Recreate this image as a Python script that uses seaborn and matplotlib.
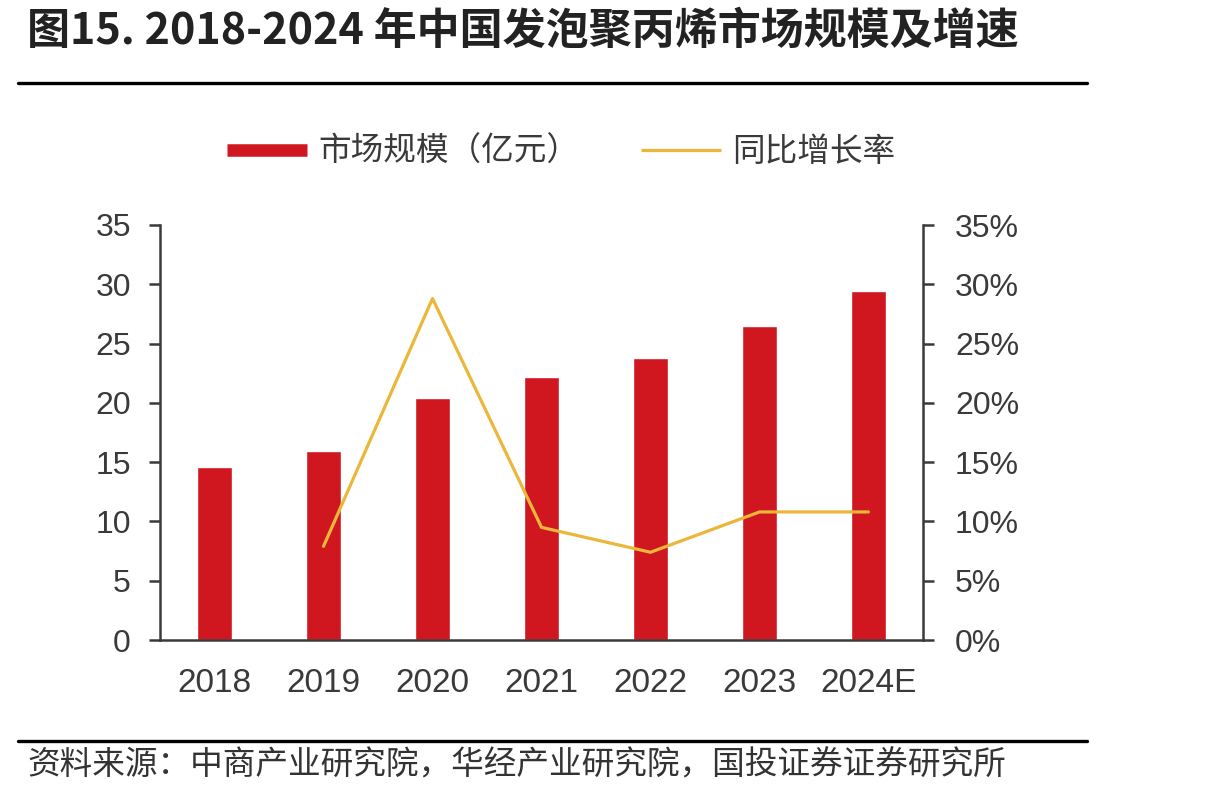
import numpy as np
import matplotlib
matplotlib.use("Agg")
import matplotlib.pyplot as plt
from matplotlib.lines import Line2D
import seaborn as sns
import pandas as pd

years = ["2018", "2019", "2020", "2021", "2022", "2023", "2024E"]
market_size = [14.6, 15.9, 20.4, 22.2, 23.8, 26.5, 29.4]
growth_years = ["2019", "2020", "2021", "2022", "2023", "2024E"]
growth_pct = [7.9, 28.8, 9.5, 7.4, 10.8, 10.8]
left_ticks = [0, 5, 10, 15, 20, 25, 30, 35]
right_ticks = [0, 5, 10, 15, 20, 25, 30, 35]

title = "图15. 2018-2024 年中国发泡聚丙烯市场规模及增速"
source = "资料来源：中商产业研究院，华经产业研究院，国投证券证券研究所"
bar_label = "市场规模（亿元）"
line_label = "同比增长率"

RED = "#D0161F"
YELLOW = "#EBB73A"
DARK = "#3A3A3A"

sns.set_theme(style="white")
plt.rcParams["font.family"] = ["Liberation Sans", "Noto Sans CJK SC", "DejaVu Sans"]
CJK = ["Noto Sans CJK SC", "DejaVu Sans"]

W, H = 1213, 794
fig = plt.figure(figsize=(W / 100, H / 100), dpi=100)
ax = fig.add_axes([160 / W, 1 - 640 / H, (923 - 160) / W, (640 - 225) / H])

df = pd.DataFrame({"year": years, "size": market_size})
sns.barplot(data=df, x="year", y="size", color=RED, width=0.32, ax=ax,
            saturation=1, order=years)
ax.set_xlim(-0.5, len(years) - 0.5)
ax.set_ylim(0, 35)
ax.set_xlabel("")
ax.set_ylabel("")

ax2 = ax.twinx()
gdf = pd.DataFrame({"x": [years.index(y) for y in growth_years], "g": growth_pct})
sns.lineplot(data=gdf, x="x", y="g", color=YELLOW, linewidth=2.3, ax=ax2)
ax2.set_ylim(0, 35)
ax2.set_xlim(-0.5, len(years) - 0.5)
ax2.set_xlabel("")
ax2.set_ylabel("")

# ticks
ax.set_xticks(np.arange(len(years)))
ax.set_xticklabels(years, fontsize=24, color=DARK)
ax.set_xticks(np.arange(-0.5, len(years), 1), minor=True)
ax.tick_params(axis="x", which="major", length=0, pad=20)
ax.tick_params(axis="x", which="minor", length=8, width=1.8, color=DARK, direction="out")
ax.set_yticks(left_ticks)
ax.set_yticklabels([str(t) for t in left_ticks], fontsize=23, color=DARK)
ax.tick_params(axis="y", length=8, width=1.8, color=DARK, direction="out", pad=13, left=True)
ax2.set_yticks(right_ticks)
ax2.set_yticklabels([f"{t}%" for t in right_ticks], fontsize=23, color=DARK)
ax2.tick_params(axis="y", length=8, width=1.8, color=DARK, direction="out", pad=15, right=True)

for a in (ax, ax2):
    a.spines["top"].set_visible(False)
    for s in ("left", "right", "bottom"):
        a.spines[s].set_color(DARK)
        a.spines[s].set_linewidth(1.8)
ax.spines["right"].set_visible(False)
ax2.spines["left"].set_visible(False)
ax2.spines["bottom"].set_visible(False)

# legend
handles = [Line2D([], [], color=RED, linewidth=9, solid_capstyle="butt"),
           Line2D([], [], color=YELLOW, linewidth=2.3, solid_capstyle="butt")]
leg = fig.legend(handles, [bar_label, line_label], loc="center",
                 bbox_to_anchor=(561 / W, 1 - 152 / H), ncol=2, frameon=False,
                 handlelength=2.45, handletextpad=0.35, columnspacing=1.9,
                 prop={"family": CJK, "size": 23.5})
for t in leg.get_texts():
    t.set_color(DARK)

# title & frame lines
fig.text(27 / W, 1 - 31 / H, title, ha="left", va="center", fontsize=31,
         fontweight="bold", color="#222222", family=CJK)
fig.add_artist(Line2D([18 / W, 1087 / W], [1 - 83 / H] * 2, transform=fig.transFigure,
                      color="black", linewidth=2.4))
fig.add_artist(Line2D([18 / W, 1087 / W], [1 - 741 / H] * 2, transform=fig.transFigure,
                      color="black", linewidth=2.4))
fig.text(27 / W, 1 - 765 / H, source, ha="left", va="center", fontsize=23.5,
         fontstyle="italic", color="#333333", family=CJK)

fig.savefig("out.png", dpi=100)
